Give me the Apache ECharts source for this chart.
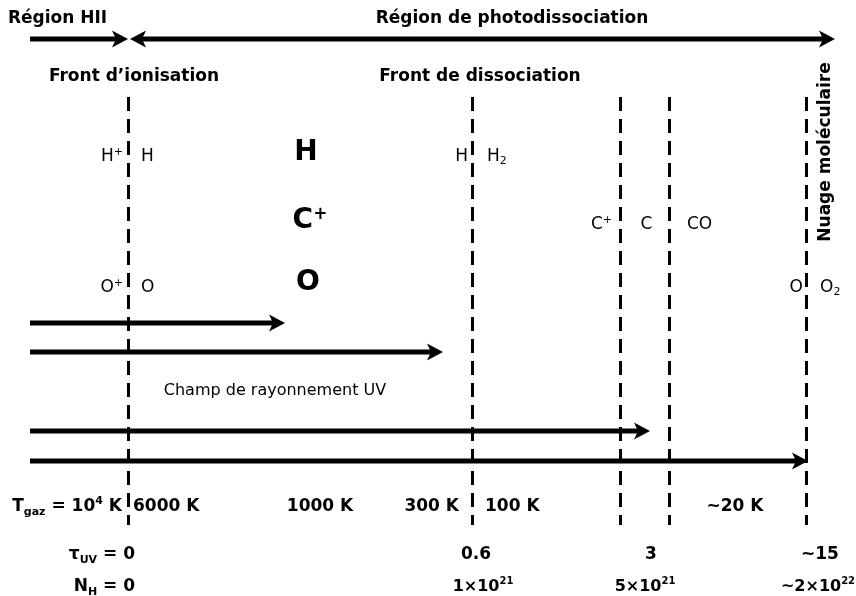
<!DOCTYPE html>
<html><head><meta charset="utf-8">
<script src="https://cdn.jsdelivr.net/npm/echarts@6/dist/echarts.min.js"></script>
<style>html,body{margin:0;padding:0;background:#fff}#c{width:856px;height:596px}</style>
</head><body><div id="c"></div>
<script>
// ---- diagram data (depth into the cloud on x, rows on y, in diagram units) ----
const fronts = [128, 472, 620, 669, 806];          // ionisation, dissociation, C+/C, C/CO, O/O2
const frontSpan = [97, 525];
const regionArrows = [[30, 128], [128, 835]];       // Région HII, Région de photodissociation
const regionRow = 39;
const uvRows = [323, 352, 431, 461];
const uvStart = 30;
const uvEnds = [285, 443, 650, 808];

const headerTexts = ['Région HII', 'Région de photodissociation'];
const frontTexts = ["Front d\u2019ionisation", 'Front de dissociation'];
const cloudText = 'Nuage moléculaire';
const speciesLeft  = ['{s|H}{ssup|+}', '{s|O}{ssup|+}', '{s|H}', '{s|C}{ssup|+}', '{s|O}'];
const speciesRight = ['{s|H}', '{s|O}', '{s|H}{ssub|2}', '{s|C}', '{s|CO}', '{s|O}{ssub|2}'];
const bigSpecies = ['{g|H}', '{g|C}{gsup|+}', '{g|O}'];
const uvText = 'Champ de rayonnement UV';
const tempLabels = ['{b|T}{sub|gaz}{b| = 10}{sup|4}{b| K}', '{b|6000 K}', '{b|1000 K}', '{b|300 K}', '{b|100 K}', '{b|~20 K}'];
const tauLabels = ['{b|\u03c4}{sub|UV}{b| = 0}', '{b|0.6}', '{b|3}', '{b|~15}'];
const nhLabels = ['{b|N}{sub|H}{b| = 0}', '{n|1\u00d710}{nsup|21}', '{n|5\u00d710}{nsup|21}', '{n|~2\u00d710}{nsup|22}'];

// ---- layout ----
const FONT = 'DejaVu Sans';
function lab(x, y, text, align, rotate) {
  return [x, y, text, align || 'center', rotate || 0];
}
const labels = [
  lab(8, 19, '{h|' + headerTexts[0] + '}', 'left'),
  lab(512, 19, '{h|' + headerTexts[1] + '}', 'center'),
  lab(134, 77, '{h|' + frontTexts[0] + '}', 'center'),
  lab(480, 77, '{h|' + frontTexts[1] + '}', 'center'),
  lab(826, 152, '{h|' + cloudText + '}', 'center', 90),
  // species
  lab(fronts[0] - 5, 157, speciesLeft[0], 'right'),
  lab(fronts[0] + 13, 157, speciesRight[0], 'left'),
  lab(fronts[0] - 5, 288, speciesLeft[1], 'right'),
  lab(fronts[0] + 13, 288, speciesRight[1], 'left'),
  lab(fronts[1] - 4, 157, speciesLeft[2], 'right'),
  lab(fronts[1] + 15, 157, speciesRight[2], 'left'),
  lab(fronts[2] - 8, 225, speciesLeft[3], 'right'),
  lab((fronts[2] + fronts[3]) / 2 + 2, 225, speciesRight[3], 'center'),
  lab(fronts[3] + 18, 225, speciesRight[4], 'left'),
  lab(fronts[4] - 3, 288, speciesLeft[4], 'right'),
  lab(fronts[4] + 14, 288, speciesRight[5], 'left'),
  lab(306, 153, bigSpecies[0], 'center'),
  lab(310, 221, bigSpecies[1], 'center'),
  lab(308, 283, bigSpecies[2], 'center'),
  lab(275, 391, '{m|' + uvText + '}', 'center'),
  // temperatures
  lab(122, 507, tempLabels[0], 'right'),
  lab(133, 507, tempLabels[1], 'left'),
  lab(320, 507, tempLabels[2], 'center'),
  lab(459, 507, tempLabels[3], 'right'),
  lab(485, 507, tempLabels[4], 'left'),
  lab(735, 507, tempLabels[5], 'center'),
  // tau
  lab(135, 555, tauLabels[0], 'right'),
  lab(476, 555, tauLabels[1], 'center'),
  lab(651, 555, tauLabels[2], 'center'),
  lab(820, 555, tauLabels[3], 'center'),
  // N_H
  lab(135, 587, nhLabels[0], 'right'),
  lab(483, 587, nhLabels[1], 'center'),
  lab(645, 587, nhLabels[2], 'center'),
  lab(818, 587, nhLabels[3], 'center')
];

const RICH = {
  h: { fontFamily: FONT, fontSize: 17, fontWeight: 'bold', fill: '#000' },
  m: { fontFamily: FONT, fontSize: 16, fill: '#000' },
  s: { fontFamily: FONT, fontSize: 17, fill: '#000', lineHeight: 20 },
  ssup: { fontFamily: FONT, fontSize: 11, fill: '#000', lineHeight: 11, verticalAlign: 'top' },
  ssub: { fontFamily: FONT, fontSize: 11, fill: '#000', lineHeight: 11, verticalAlign: 'bottom' },
  g: { fontFamily: FONT, fontSize: 28, fontWeight: 'bold', fill: '#000', lineHeight: 30 },
  gsup: { fontFamily: FONT, fontSize: 17, fontWeight: 'bold', fill: '#000', lineHeight: 18, verticalAlign: 'top' },
  b: { fontFamily: FONT, fontSize: 17, fontWeight: 'bold', fill: '#000', lineHeight: 22 },
  sup: { fontFamily: FONT, fontSize: 11, fontWeight: 'bold', fill: '#000', lineHeight: 11, verticalAlign: 'top' },
  sub: { fontFamily: FONT, fontSize: 11, fontWeight: 'bold', fill: '#000', lineHeight: 11, verticalAlign: 'bottom' },
  n: { fontFamily: FONT, fontSize: 16, fontWeight: 'bold', fill: '#000', lineHeight: 22 },
  nsup: { fontFamily: FONT, fontSize: 10, fontWeight: 'bold', fill: '#000', lineHeight: 10, verticalAlign: 'top' }
};

function renderLabel(params, api) {
  const item = labels[params.dataIndex];
  const p = api.coord([api.value(0), api.value(1)]);
  return {
    type: 'text', x: p[0], y: p[1], rotation: item[4] * Math.PI / 180,
    style: { text: item[2], rich: RICH, fill: '#000', align: item[3], verticalAlign: 'middle',
             fontFamily: FONT, fontSize: 17 }
  };
}

// arrows: [x start, x end, y, head at start, head at end]
const arrows = [
  [regionArrows[0][0], regionArrows[0][1], regionRow, 0, 1],
  [regionArrows[1][0] + 2, regionArrows[1][1], regionRow, 1, 1]
].concat(uvRows.map((y, i) => [uvStart, uvEnds[i], y, 0, 1]));

const HEAD_L = 16, HEAD_W = 8.5, NOTCH = 12, LINE_W = 5;
function renderArrow(params, api) {
  const a = api.coord([api.value(0), api.value(2)]);
  const b = api.coord([api.value(1), api.value(2)]);
  const hs = api.value(3), he = api.value(4);
  const y = a[1];
  const x1 = hs ? a[0] + NOTCH : a[0];
  const x2 = he ? b[0] - NOTCH : b[0];
  const children = [{
    type: 'rect', shape: { x: x1, y: y - LINE_W / 2, width: x2 - x1, height: LINE_W },
    style: { fill: '#000' }
  }];
  if (he) children.push({ type: 'polygon', shape: { points: [[b[0], y], [b[0] - HEAD_L, y - HEAD_W], [b[0] - NOTCH, y], [b[0] - HEAD_L, y + HEAD_W]] }, style: { fill: '#000' } });
  if (hs) children.push({ type: 'polygon', shape: { points: [[a[0], y], [a[0] + HEAD_L, y - HEAD_W], [a[0] + NOTCH, y], [a[0] + HEAD_L, y + HEAD_W]] }, style: { fill: '#000' } });
  return { type: 'group', children: children };
}

const chart = echarts.init(document.getElementById('c'), null, { renderer: 'canvas' });
chart.setOption({
  backgroundColor: '#fff',
  animation: false,
  grid: { left: 0, right: 0, top: 0, bottom: 0 },
  xAxis: { type: 'value', min: 0, max: 856, show: false },
  yAxis: { type: 'value', min: 0, max: 596, inverse: true, show: false },
  series: [
    { // fronts (dashed)
      type: 'lines', coordinateSystem: 'cartesian2d', silent: true, z: 1,
      symbol: ['none', 'none'],
      lineStyle: { color: '#000', width: 3, type: [14, 8], opacity: 1 },
      data: fronts.map(x => ({ coords: [[x, frontSpan[0]], [x, frontSpan[1]]] }))
    },
    { // arrows
      type: 'custom', coordinateSystem: 'cartesian2d', silent: true, z: 2,
      renderItem: renderArrow,
      data: arrows
    },
    { // text labels
      type: 'custom', coordinateSystem: 'cartesian2d', silent: true, z: 5,
      renderItem: renderLabel,
      data: labels.map(l => [l[0], l[1]])
    }
  ]
});
</script>
</body></html>
